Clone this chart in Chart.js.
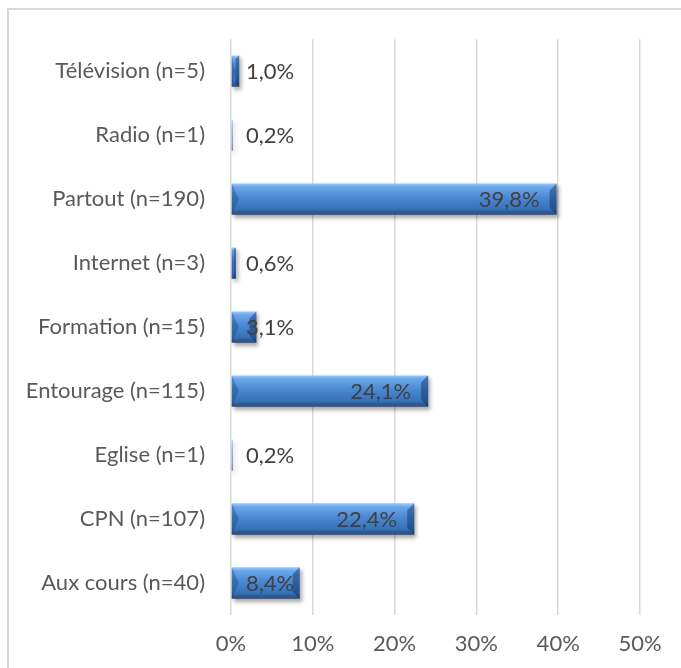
<!DOCTYPE html>
<html>
  <head>
    <meta charset="utf-8"/>
    <style>
      html, body { margin: 0; padding: 0; background: #ffffff; overflow: hidden; }
      #frame { position: absolute; left: 7px; top: 8px; width: 800px; height: 800px; border: 2px solid #d9d9d9; box-sizing: border-box; }
      #holder { position: absolute; left: 0; top: 0; width: 681px; height: 668px; }
    </style>
  </head>
  <body>
    <div id="frame"></div>
    <div id="holder">
      <canvas id="chart-area" width="681" height="668"></canvas>
    </div>

    <script src="https://cdn.jsdelivr.net/npm/chart.js@4/dist/chart.umd.min.js"></script>
    <script>
        // values, top to bottom
        var categories = ['Télévision (n=5)', 'Radio (n=1)', 'Partout (n=190)', 'Internet (n=3)',
                          'Formation (n=15)', 'Entourage (n=115)', 'Eglise (n=1)', 'CPN (n=107)', 'Aux cours (n=40)'];
        var percents = [1.0, 0.2, 39.8, 0.6, 3.1, 24.1, 0.2, 22.4, 8.4];
        var tickValues = [0, 10, 20, 30, 40, 50];

        var fontFamily = 'Lato, "Open Sans", sans-serif';
        var fontSize = 22;

        // vertical gradient for each bar, built from the y scale
        var barFill = function(context) {
            var chart = context.chart;
            var yScale = chart.scales.y;
            if (!yScale) return '#4a86cf';
            var band = (yScale.bottom - yScale.top) / categories.length;
            var half = band * 0.49 / 2;
            var cy = yScale.getPixelForValue(context.dataIndex);
            if (!isFinite(cy) || !isFinite(half) || half <= 0) return '#4a86cf';
            var g = chart.ctx.createLinearGradient(0, cy - half, 0, cy + half);
            g.addColorStop(0, '#9cc8f2');
            g.addColorStop(0.12, '#6aa6e8');
            g.addColorStop(0.45, '#4a88d2');
            g.addColorStop(0.8, '#3a72ba');
            g.addColorStop(1, '#1f4c82');
            return g;
        };

        // drop shadow under the bars
        var shadowPlugin = {
            id: 'barShadow',
            beforeDatasetsDraw: function(chart) {
                var ctx = chart.ctx;
                ctx.save();
                ctx.shadowColor = 'rgba(0,0,0,0.35)';
                ctx.shadowBlur = 4;
                ctx.shadowOffsetX = 2;
                ctx.shadowOffsetY = 3;
            },
            afterDatasetsDraw: function(chart) {
                chart.ctx.restore();
            }
        };

        // bevel at both ends + value labels
        var labelPlugin = {
            id: 'valueLabels',
            afterDatasetsDraw: function(chart) {
                var ctx = chart.ctx;
                var meta = chart.getDatasetMeta(0);
                var x0 = chart.scales.x.getPixelForValue(0);
                ctx.save();
                meta.data.forEach(function(bar) {
                    var top = bar.y - bar.height / 2;
                    var bot = bar.y + bar.height / 2;
                    var len = bar.x - bar.base;
                    var b = Math.min(7, len / 2);
                    if (len > 2) {
                        // left end darker wedge
                        ctx.fillStyle = 'rgba(20,60,120,0.35)';
                        ctx.beginPath();
                        ctx.moveTo(bar.base, top);
                        ctx.lineTo(bar.base + b, bar.y);
                        ctx.lineTo(bar.base, bot);
                        ctx.closePath();
                        ctx.fill();
                        // right end darker wedge
                        ctx.fillStyle = 'rgba(15,45,95,0.45)';
                        ctx.beginPath();
                        ctx.moveTo(bar.x, top);
                        ctx.lineTo(bar.x - b, top + b);
                        ctx.lineTo(bar.x - b, bot - b);
                        ctx.lineTo(bar.x, bot);
                        ctx.closePath();
                        ctx.fill();
                    }
                });
                ctx.font = fontSize + 'px ' + fontFamily;
                ctx.fillStyle = '#404040';
                ctx.textAlign = 'right';
                ctx.textBaseline = 'middle';
                meta.data.forEach(function(bar, i) {
                    var txt = percents[i].toFixed(1).replace('.', ',') + '%';
                    var w = ctx.measureText(txt).width;
                    var right = Math.max(bar.x - 17, x0 + 15 + w);
                    ctx.fillText(txt, right, bar.y + 1);
                });
                ctx.restore();
            }
        };

        var ctx = document.getElementById('chart-area').getContext('2d');
        var chart = new Chart(ctx, {
            type: 'bar',
            data: {
                labels: categories,
                datasets: [{
                    label: 'percents',
                    data: percents,
                    backgroundColor: barFill,
                    borderWidth: 0,
                    categoryPercentage: 1,
                    barPercentage: 0.49
                }]
            },
            options: {
                indexAxis: 'y',
                responsive: false,
                animation: false,
                events: [],
                layout: { padding: { left: 0, top: 38, right: 41, bottom: 0 } },
                plugins: {
                    legend: { display: false },
                    tooltip: { enabled: false }
                },
                scales: {
                    x: {
                        min: 0,
                        max: 50,
                        afterBuildTicks: function(axis) {
                            axis.ticks = tickValues.map(function(v) { return { value: v }; });
                        },
                        afterFit: function(axis) { axis.height = 53; },
                        grid: { color: '#d9d9d9', lineWidth: 1.5, drawTicks: false },
                        border: { display: false },
                        ticks: {
                            padding: 16,
                            color: '#595959',
                            font: { family: fontFamily, size: fontSize },
                            callback: function(v) { return v + '%'; }
                        }
                    },
                    y: {
                        afterFit: function(axis) { axis.width = 231; },
                        grid: { display: false, drawTicks: false },
                        border: { display: false },
                        ticks: {
                            padding: 26,
                            color: '#595959',
                            font: { family: fontFamily, size: fontSize }
                        }
                    }
                }
            },
            plugins: [shadowPlugin, labelPlugin]
        });
        chart.update('none');
    </script>
  </body>
</html>
